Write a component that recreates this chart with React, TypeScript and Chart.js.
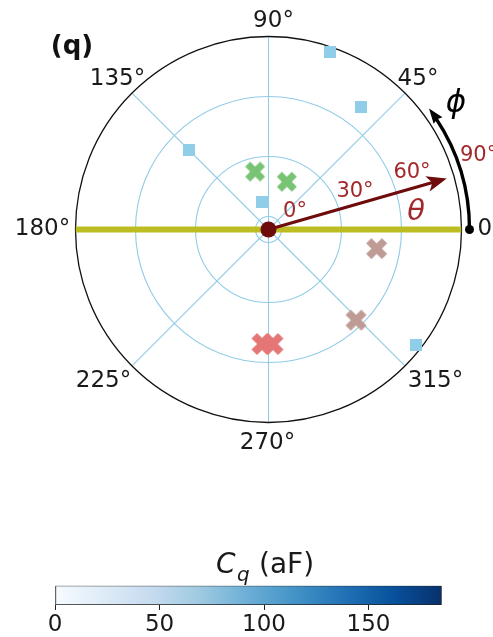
import React, { useEffect, useRef } from 'react';
import { Chart, registerables } from 'chart.js';

Chart.register(...registerables);

// Angles in degrees. phi: azimuth, counter-clockwise from +x.
// theta: tilt, plotted as the radial coordinate (pole sits at THETA_ORIGIN).
const THETA_ORIGIN = -6.5;
const THETA_LIMIT = 90;
const thetaRings = [0, 30, 60];
const phiTicks = [0, 45, 90, 135, 180, 225, 270, 315];
const phiTickLabels = ['0°', '45°', '90°', '135°', '180°', '225°', '270°', '315°'];
const ringLabels = ['0°', '30°', '60°', '90°'];

// Capacitance-coloured squares
const capPhi = [71, 53, 135, 103, 322];
const capTheta = [87.4, 70, 50, 7.7, 87.1];

// Crosses
const greenPhi = [103, 69];
const greenTheta = [23.2, 19.1];
const brownPhi = [350, 314];
const brownTheta = [48.4, 56.5];
const redPhi = [267, 272];
const redTheta = [50.8, 50.8];

// Yellow plane trace (phi = 0 .. 180 through the pole)
const planePhi = [180, 0];
const planeTheta = [THETA_LIMIT, THETA_LIMIT];

// Field arrow (theta) and azimuth sweep (phi)
const fieldPhi = 16;
const fieldTheta = 86.2;
const sweepPhi = 37;

// Colour bar
const cbarTicks = [0, 50, 100, 150];
const CBAR_MAX = 185;
const bluesStops = ['#f7fbff', '#deebf7', '#c6dbef', '#9ecae1', '#6baed6', '#4292c6', '#2171b5', '#08519c', '#08306b'];

const FONT = '"DejaVu Sans", "Liberation Sans", sans-serif';
const GRID = '#92cce6';
const DARK_RED = '#6e0b0b';
const LABEL_RED = '#a3282a';

const rad = (d: number) => (d * Math.PI) / 180;
const toXY = (phi: number, theta: number) => {
  const r = theta - THETA_ORIGIN;
  return { x: r * Math.cos(rad(phi)), y: r * Math.sin(rad(phi)) };
};
const series = (phis: number[], thetas: number[]) => phis.map((p, i) => toXY(p, thetas[i]));

function xMarker(color: string, size: number) {
  const c = document.createElement('canvas');
  c.width = c.height = Math.ceil(size) + 2;
  const g = c.getContext('2d')!;
  const h = c.width / 2;
  g.translate(h, h);
  g.rotate(Math.PI / 4);
  const L = size / 2 / 0.943;
  const w = L / 3;
  const pts = [[w, -L], [w, -w], [L, -w], [L, w], [w, w], [w, L], [-w, L], [-w, w], [-L, w], [-L, -w], [-w, -w], [-w, -L]];
  g.beginPath();
  pts.forEach(([px, py], i) => (i ? g.lineTo(px, py) : g.moveTo(px, py)));
  g.closePath();
  g.fillStyle = color;
  g.fill();
  return c;
}

function squareMarker(color: string, side: number) {
  const c = document.createElement('canvas');
  c.width = c.height = side;
  const g = c.getContext('2d')!;
  g.fillStyle = color;
  g.fillRect(0, 0, side, side);
  return c;
}

function arrowHead(ctx: CanvasRenderingContext2D, tx: number, ty: number, ang: number, len: number, half: number, back: number) {
  const c = Math.cos(ang), s = Math.sin(ang);
  ctx.beginPath();
  ctx.moveTo(tx, ty);
  ctx.lineTo(tx - len * c + half * s, ty - len * s - half * c);
  ctx.lineTo(tx - (len - back) * c, ty - (len - back) * s);
  ctx.lineTo(tx - len * c - half * s, ty - len * s + half * c);
  ctx.closePath();
  ctx.fill();
}

// Tick label anchors around the rim: [dx, baseline dy] from the pole in px
const phiLabelOffset: Record<number, [number, number]> = {
  0: [222, 5.5], 45: [149.5, -144.5], 90: [5, -202.5], 135: [-151, -144.5],
  180: [-226, 5.5], 225: [-165, 157], 270: [-1, 219], 315: [167, 157],
};
const ringLabelOffset: [number, number][] = [[26.5, -12.5], [86.5, -32.5], [143.5, -51.5], [211, -68.5]];

const polarDecor = {
  id: 'polarDecor',
  beforeDatasetsDraw(chart: any) {
    const { ctx, scales: { x, y } } = chart;
    const cx = x.getPixelForValue(0), cy = y.getPixelForValue(0);
    const k = x.getPixelForValue(1) - cx;
    const rOuter = (THETA_LIMIT - THETA_ORIGIN) * k;
    ctx.save();
    ctx.strokeStyle = GRID;
    ctx.lineWidth = 1.1;
    for (const t of thetaRings) {
      ctx.beginPath();
      ctx.arc(cx, cy, (t - THETA_ORIGIN) * k, 0, Math.PI * 2);
      ctx.stroke();
    }
    for (const p of phiTicks) {
      ctx.beginPath();
      ctx.moveTo(cx, cy);
      ctx.lineTo(cx + rOuter * Math.cos(rad(p)), cy - rOuter * Math.sin(rad(p)));
      ctx.stroke();
    }
    ctx.strokeStyle = '#111';
    ctx.lineWidth = 1.3;
    ctx.beginPath();
    ctx.arc(cx, cy, rOuter, 0, Math.PI * 2);
    ctx.stroke();
    ctx.restore();
  },
  afterDatasetsDraw(chart: any) {
    const { ctx, scales: { x, y } } = chart;
    const cx = x.getPixelForValue(0), cy = y.getPixelForValue(0);
    const k = x.getPixelForValue(1) - cx;
    const rOuter = (THETA_LIMIT - THETA_ORIGIN) * k;
    ctx.save();

    // theta arrow from the pole
    const tip = toXY(fieldPhi, fieldTheta);
    const tx = x.getPixelForValue(tip.x), ty = y.getPixelForValue(tip.y);
    const ang = Math.atan2(ty - cy, tx - cx);
    ctx.strokeStyle = DARK_RED;
    ctx.fillStyle = DARK_RED;
    ctx.lineWidth = 3.2;
    ctx.beginPath();
    ctx.moveTo(cx, cy);
    ctx.lineTo(tx - 12 * Math.cos(ang), ty - 12 * Math.sin(ang));
    ctx.stroke();
    arrowHead(ctx, tx, ty, ang, 20, 8, 5);

    // phi sweep arc outside the rim
    const rArc = rOuter + 8;
    const headLen = 15;
    const endA = rad(sweepPhi);
    ctx.strokeStyle = '#000';
    ctx.fillStyle = '#000';
    ctx.lineWidth = 3.4;
    ctx.beginPath();
    ctx.arc(cx, cy, rArc, 0, -(endA - (headLen - 3) / rArc), true);
    ctx.stroke();
    const ax = cx + rArc * Math.cos(endA), ay = cy - rArc * Math.sin(endA);
    const dirA = Math.atan2(-Math.cos(endA), -Math.sin(endA));
    arrowHead(ctx, ax, ay, dirA, headLen, 5.5, 1.5);
    ctx.beginPath();
    ctx.arc(cx + rArc, cy, 4.5, 0, Math.PI * 2);
    ctx.fill();

    // ring labels along the arrow
    ctx.fillStyle = LABEL_RED;
    ctx.font = `21px ${FONT}`;
    ctx.textBaseline = 'alphabetic';
    ringLabels.forEach((t, i) => {
      const [dx, dy] = ringLabelOffset[i];
      ctx.textAlign = i === 3 ? 'left' : 'center';
      ctx.fillText(t, i === 3 ? cx + 191.5 : cx + dx, cy + dy);
    });
    ctx.font = `italic 29px ${FONT}`;
    ctx.textAlign = 'center';
    ctx.fillText('θ', cx + 147.5, cy - 10);

    ctx.fillStyle = '#000';
    ctx.font = `italic 31px ${FONT}`;
    ctx.fillText('ϕ', cx + 187.5, cy - 117.5);

    // azimuth tick labels
    ctx.fillStyle = '#1a1a1a';
    ctx.font = `23px ${FONT}`;
    phiTicks.forEach((p, i) => {
      const [dx, dy] = phiLabelOffset[p];
      ctx.fillText(phiTickLabels[i], cx + dx, cy + dy);
    });

    // panel tag
    ctx.fillStyle = '#111';
    ctx.font = `bold 26px ${FONT}`;
    ctx.fillText('(q)', 72, 53.5);
    ctx.restore();
  },
};

const cbarTitle = {
  id: 'cbarTitle',
  afterDraw(chart: any) {
    const { ctx } = chart;
    ctx.save();
    ctx.fillStyle = '#1a1a1a';
    ctx.textAlign = 'left';
    ctx.textBaseline = 'alphabetic';
    ctx.font = `italic 28px ${FONT}`;
    ctx.fillText('C', 216, 43);
    ctx.font = `italic 20px ${FONT}`;
    ctx.fillText('q', 237, 50.5);
    ctx.font = `28px ${FONT}`;
    ctx.fillText('(aF)', 259, 43);
    ctx.restore();
  },
};

export default function App() {
  const mainRef = useRef<HTMLCanvasElement>(null);
  const barRef = useRef<HTMLCanvasElement>(null);

  useEffect(() => {
    const R = THETA_LIMIT - THETA_ORIGIN;
    const main = new Chart(mainRef.current!, {
      type: 'scatter',
      data: {
        datasets: [
          {
            label: 'pole',
            data: [{ x: 0, y: 0 }],
            pointStyle: 'circle',
            pointRadius: 8,
            backgroundColor: DARK_RED,
            borderWidth: 0,
            order: 0,
          },
          {
            label: 'green',
            data: series(greenPhi, greenTheta),
            pointStyle: xMarker('#79c374', 20),
            pointRadius: 10,
            order: 1,
          },
          {
            label: 'brown',
            data: series(brownPhi, brownTheta),
            pointStyle: xMarker('#bf9b95', 21),
            pointRadius: 10,
            order: 1,
          },
          {
            label: 'red',
            data: series(redPhi, redTheta),
            pointStyle: xMarker('#e57676', 22),
            pointRadius: 10,
            order: 1,
          },
          {
            label: 'Cq',
            data: series(capPhi, capTheta),
            pointStyle: squareMarker('#8fcde9', 12),
            pointRadius: 7,
            order: 2,
          },
          {
            label: 'plane',
            data: series(planePhi, planeTheta),
            showLine: true,
            borderColor: '#bcbd22',
            borderWidth: 6,
            borderCapStyle: 'butt',
            pointRadius: 0,
            order: 3,
          },
        ] as any,
      },
      options: {
        responsive: false,
        maintainAspectRatio: false,
        animation: false,
        devicePixelRatio: 1,
        layout: { padding: { left: 75.5, right: 31.5, top: 36.5, bottom: 107.5 } },
        scales: {
          x: { type: 'linear', min: -R, max: R, display: false },
          y: { type: 'linear', min: -R, max: R, display: false },
        },
        plugins: { legend: { display: false }, tooltip: { enabled: false } },
        events: [],
      },
      plugins: [polarDecor],
    });

    const bar = new Chart(barRef.current!, {
      type: 'bar',
      data: {
        labels: ['Cq'],
        datasets: [
          {
            data: [[0, CBAR_MAX]] as any,
            backgroundColor: (c: any) => {
              const ch = c.chart;
              const xs = ch.scales.x;
              if (!ch.chartArea || !xs) return bluesStops[4];
              const g = ch.ctx.createLinearGradient(xs.getPixelForValue(0), 0, xs.getPixelForValue(CBAR_MAX), 0);
              bluesStops.forEach((col, i) => g.addColorStop(i / (bluesStops.length - 1), col));
              return g;
            },
            borderColor: '#222',
            borderWidth: 1,
            borderSkipped: false,
            barPercentage: 1,
            categoryPercentage: 1,
          },
        ],
      },
      options: {
        indexAxis: 'y',
        responsive: false,
        maintainAspectRatio: false,
        animation: false,
        devicePixelRatio: 1,
        layout: { padding: { left: 55, right: 51.3, top: 55.7, bottom: 0 } },
        scales: {
          x: {
            type: 'linear',
            min: 0,
            max: CBAR_MAX,
            position: 'bottom',
            afterBuildTicks: (axis: any) => {
              axis.ticks = cbarTicks.map((v) => ({ value: v }));
            },
            afterFit: (axis: any) => {
              axis.height = 32;
            },
            ticks: { font: { family: FONT, size: 23 }, color: '#1a1a1a', padding: 1, maxRotation: 0 },
            grid: { drawOnChartArea: false, drawTicks: true, tickLength: 5, tickColor: '#222', tickWidth: 1 },
            border: { display: false },
          },
          y: { display: false },
        },
        plugins: { legend: { display: false }, tooltip: { enabled: false } },
        events: [],
      },
      plugins: [cbarTitle],
    });

    return () => {
      main.destroy();
      bar.destroy();
    };
  }, []);

  return (
    <div style={{ position: 'fixed', left: 0, top: 0, width: 493, height: 637, background: '#fff', overflow: 'hidden' }}>
      <canvas ref={mainRef} width={493} height={530} style={{ position: 'absolute', left: 0, top: 0 }} />
      <canvas ref={barRef} width={493} height={107} style={{ position: 'absolute', left: 0, top: 530 }} />
    </div>
  );
}
